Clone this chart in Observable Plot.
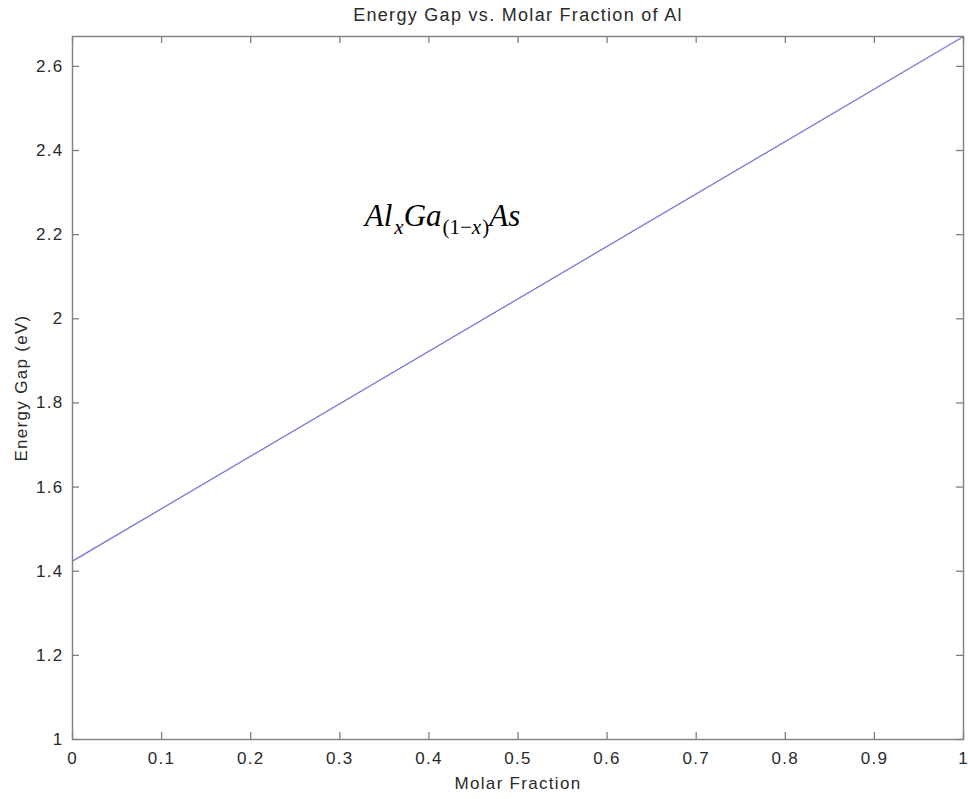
<!DOCTYPE html>
<html>
<head>
<meta charset="utf-8">
<script src="https://cdn.jsdelivr.net/npm/d3@7"></script>
<script src="https://cdn.jsdelivr.net/npm/@observablehq/plot@0.6"></script>
<style>
  html, body { margin: 0; padding: 0; background: #fff; }
</style>
</head>
<body>
<div id="chart"></div>
<script>
// ---- data ----
const molarFraction = [0, 1];
const energyGap = [1.424, 2.671];
const xTicks = [0, 0.1, 0.2, 0.3, 0.4, 0.5, 0.6, 0.7, 0.8, 0.9, 1];
const yTicks = [1, 1.2, 1.4, 1.6, 1.8, 2, 2.2, 2.4, 2.6];
const titleText = "Energy Gap vs. Molar Fraction of Al";
const xLabel = "Molar Fraction";
const yLabel = "Energy Gap (eV)";
const annotation = [{x: 0.328, y: 2.243, text: "AlxGa(1−x)As"}];

const W = 968, H = 799;
const mL = 72, mR = 5, mT = 36, mB = 60;
const pw = W - mL - mR, ph = H - mT - mB;
const axisColor = "#808080";
const fmt = d => String(+d.toFixed(1));

const data = molarFraction.map((x, i) => ({x, y: energyGap[i]}));

const chart = Plot.plot({
  width: W, height: H,
  marginLeft: mL, marginRight: mR, marginTop: mT, marginBottom: mB,
  x: {domain: [0, 1]},
  y: {domain: [1, 2.671]},
  style: {fontFamily: "'Liberation Sans', Arial, sans-serif", fontSize: "17px", color: "#2a2a2a", background: "#fff", letterSpacing: "1.3px"},
  marks: [
    Plot.line(data, {x: "x", y: "y", stroke: "#7676d8", strokeWidth: 1.3}),
    Plot.frame({stroke: axisColor, strokeWidth: 1.4}),
    Plot.ruleX(xTicks, {x: d => d, insetTop: ph - 7, stroke: axisColor, strokeWidth: 1.3}),
    Plot.ruleX(xTicks, {x: d => d, insetBottom: ph - 7, stroke: axisColor, strokeWidth: 1.3}),
    Plot.ruleY(yTicks, {y: d => d, insetRight: pw - 7, stroke: axisColor, strokeWidth: 1.3}),
    Plot.ruleY(yTicks, {y: d => d, insetLeft: pw - 7, stroke: axisColor, strokeWidth: 1.3}),
    Plot.axisX({ticks: xTicks, tickSize: 0, tickPadding: 12, tickFormat: fmt, label: xLabel, labelAnchor: "center", labelArrow: "none", labelOffset: 49, fill: "#2a2a2a"}),
    Plot.axisY({ticks: yTicks, tickSize: 0, tickPadding: 9, tickFormat: fmt, label: yLabel, labelAnchor: "center", labelArrow: "none", labelOffset: 58, fill: "#2a2a2a"}),
    Plot.text([titleText], {frameAnchor: "top", dy: -16, lineAnchor: "bottom", fontSize: 18, fill: "#2a2a2a"}),
    Plot.text(annotation, {x: "x", y: "y", text: "text", textAnchor: "start", fontFamily: "'Liberation Serif', 'Times New Roman', serif", fontSize: 31, fill: "#000", className: "formula"})
  ]
});

document.getElementById("chart").appendChild(chart);

// Typeset the formula with subscripts
d3.select(chart).selectAll("g.formula text").each(function() {
  const t = d3.select(this);
  t.attr("dy", null).text(null).style("letter-spacing", "0px");
  const sub = 8;
  const parts = [
    {s: "Al", italic: true},
    {s: "x", italic: true, dy: sub, small: true, dx: 2},
    {s: "Ga", italic: true, dy: -sub},
    {s: "(", dy: sub, small: true, dx: 1},
    {s: "1", small: true},
    {s: "−", small: true},
    {s: "x", italic: true, small: true},
    {s: ")", small: true, dx: 1},
    {s: "As", italic: true, dy: -sub}
  ];
  parts.forEach(p => {
    const ts = t.append("tspan").text(p.s)
      .attr("font-style", p.italic ? "italic" : "normal")
      .attr("font-size", p.small ? 21 : 31);
    if (p.dy) ts.attr("dy", p.dy);
    if (p.dx) ts.attr("dx", p.dx);
  });
});
</script>
</body>
</html>
